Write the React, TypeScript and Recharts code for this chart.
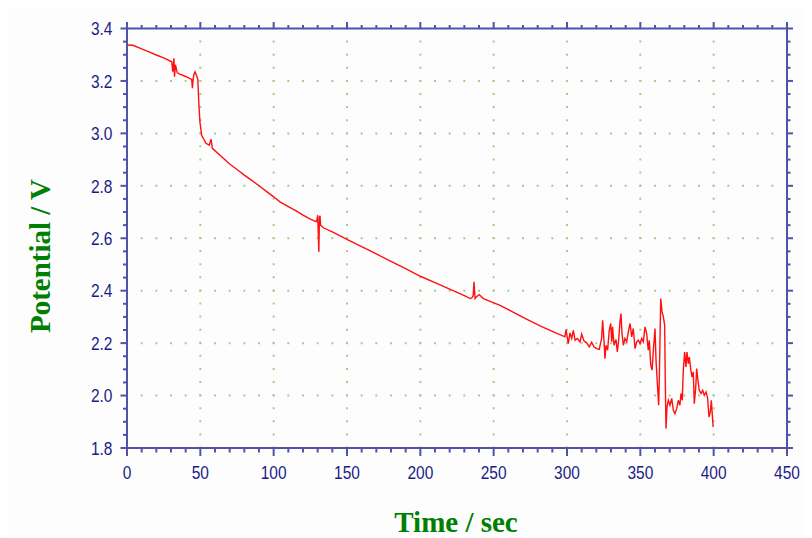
import React from "react";
import { LineChart, Line, XAxis, YAxis, CartesianGrid } from "recharts";

const timeSec: number[] = [
  0, 4, 10, 15, 20, 25, 30.5, 31.2, 32, 32.4, 33, 34.3, 36, 40, 44.1, 44.6, 45, 45.6, 46.4, 47.5, 48.3,
  49.1, 49.8, 50.9, 53.9, 56.1, 57.3, 58.2, 65.7, 70, 75, 80, 85, 90, 95, 100, 104.3, 110, 115,
  120, 125, 128.9, 129.5, 130, 130.4, 130.8, 131.2, 131.6, 132, 133, 133.9, 140, 150, 160, 170,
  180, 190, 200, 210, 220, 230, 234, 235, 236, 236.6, 237, 237.3, 238.5, 240.2, 241.5, 243, 248,
  254, 260, 270, 281.6, 290, 298.6, 299.3, 300.9, 302, 303.2, 304.3, 305.5, 307, 308.9, 310,
  311.6, 313.4, 315.2, 316.8, 318.4, 320.2, 322, 323.6, 324.3, 325.2, 325.9, 326.6, 327.7, 328.8,
  329.8, 330.5, 331.1, 332, 333.4, 334.3, 335.2, 336.1, 336.8, 337.5, 338.4, 339.5, 340.7, 342,
  343, 344.1, 345.2, 346.4, 347.5, 348.6, 349.8, 350.9, 352, 353.2, 354.3, 355.4, 356.1, 357.1,
  358, 358.9, 360, 360.7, 361.6, 362.5, 363, 363.9, 364.8, 365.7, 366.6, 367, 367.5, 368.2,
  369.1, 370.2, 371.4, 372.5, 373.6, 374.8, 375.9, 377, 377.7, 378.6, 379.3, 380.2, 381.1, 381.8,
  382.7, 383.4, 384.3, 385.2, 386.1, 386.8, 387.8, 388.4, 389.3, 390.2, 391.4, 392.5, 393.6,
  394.8, 395.9, 396.8, 397.7, 398.4, 399.1, 399.6,
];

const potentialV: number[] = [
  3.337, 3.336, 3.322, 3.311, 3.299, 3.288, 3.273, 3.235, 3.286, 3.216, 3.262, 3.231, 3.226, 3.217, 3.206, 3.172, 3.2, 3.225, 3.235, 3.219, 3.205,
  3.1, 3.04, 2.993, 2.962, 2.955, 2.978, 2.943, 2.905, 2.883, 2.862, 2.841, 2.821, 2.8, 2.779, 2.758, 2.739, 2.721, 2.705,
  2.688, 2.673, 2.663, 2.668, 2.688, 2.62, 2.548, 2.68, 2.686, 2.65, 2.645, 2.64, 2.624, 2.596, 2.568, 2.54,
  2.512, 2.484, 2.455, 2.431, 2.406, 2.381, 2.37, 2.372, 2.38, 2.434, 2.4, 2.37, 2.378, 2.385, 2.378, 2.37, 2.358,
  2.345, 2.328, 2.298, 2.266, 2.245, 2.224, 2.252, 2.198, 2.239, 2.218, 2.249, 2.211, 2.218, 2.205, 2.234,
  2.208, 2.201, 2.186, 2.203, 2.186, 2.179, 2.176, 2.218, 2.287, 2.211, 2.141, 2.192, 2.173, 2.249,
  2.275, 2.205, 2.262, 2.192, 2.214, 2.166, 2.211, 2.281, 2.313, 2.237, 2.192, 2.218, 2.205, 2.249,
  2.275, 2.224, 2.256, 2.179, 2.205, 2.211, 2.198, 2.218, 2.205, 2.262, 2.237, 2.173, 2.211, 2.116,
  2.097, 2.173, 2.256, 2.135, 2.046, 1.963, 2.084, 2.37, 2.319, 2.3, 2.268, 2.058, 1.874, 1.957,
  1.982, 1.963, 1.989, 1.944, 1.931, 1.95, 1.982, 1.963, 2.008, 1.982, 2.097, 2.166, 2.109, 2.166,
  2.122, 2.147, 2.103, 2.071, 2.09, 1.969, 2.033, 2.103, 2.058, 2.02, 2.008, 2.02, 2.001,
  2.014, 1.989, 1.918, 1.937, 1.982, 1.925, 1.88,
];

const xTicks: number[] = [0, 10, 20, 30, 40, 50, 60, 70, 80, 90, 100, 110, 120, 130, 140, 150, 160, 170, 180, 190, 200, 210, 220, 230, 240, 250, 260, 270, 280, 290, 300, 310, 320, 330, 340, 350, 360, 370, 380, 390, 400, 410, 420, 430, 440, 450];
const xMajor: number[] = [0, 50, 100, 150, 200, 250, 300, 350, 400, 450];
const yTicks: number[] = [1.8, 1.85, 1.9, 1.95, 2.0, 2.05, 2.1, 2.15, 2.2, 2.25, 2.3, 2.35, 2.4, 2.45, 2.5, 2.55, 2.6, 2.65, 2.7, 2.75, 2.8, 2.85, 2.9, 2.95, 3.0, 3.05, 3.1, 3.15, 3.2, 3.25, 3.3, 3.35, 3.4];
const yMajor: number[] = [1.8, 2.0, 2.2, 2.4, 2.6, 2.8, 3.0, 3.2, 3.4];
const yGrid: number[] = [2.0, 2.2, 2.4, 2.6, 2.8, 3.0, 3.2];
const xGrid: number[] = [50, 100, 150, 200, 250, 300, 350, 400];

const data = timeSec.map((t, i) => ({ t, v: potentialV[i] }));

const AXIS = "#5252ac";
const LABEL = "#1c1c84";
const GRID = "#a9cc8c";
const FONT = "'Liberation Sans', Arial, sans-serif";

const isMajorX = (v: number) => xMajor.some((m) => Math.abs(m - v) < 1e-6);
const isMajorY = (v: number) => yMajor.some((m) => Math.abs(m - v) < 1e-6);

const BottomTick = (props: any) => {
  const { x, y, payload } = props;
  const major = isMajorX(payload.value);
  return (
    <g>
      <line x1={x} x2={x} y1={y} y2={y + (major ? 8 : 4.5)} stroke={AXIS} strokeWidth={2} />
      {major && (
        <text
          transform={`translate(${x},${y + 30.5}) scale(1,1.2)`}
          textAnchor="middle"
          fill={LABEL}
          fontSize={15.5}
          fontFamily={FONT}
        >
          {payload.value}
        </text>
      )}
    </g>
  );
};

const TopTick = (props: any) => {
  const { x, y, payload } = props;
  const major = isMajorX(payload.value);
  return <line x1={x} x2={x} y1={y} y2={y - (major ? 6.5 : 3.5)} stroke={AXIS} strokeWidth={2} />;
};

const LeftTick = (props: any) => {
  const { x, y, payload } = props;
  const major = isMajorY(payload.value);
  return (
    <g>
      <line x1={major ? x - 6.5 : x - 4} x2={x + 1} y1={y} y2={y} stroke={AXIS} strokeWidth={2} />
      {major && (
        <text
          transform={`translate(${x - 14.5},${y + 6.8}) scale(1,1.2)`}
          textAnchor="end"
          fill={LABEL}
          fontSize={15.5}
          fontFamily={FONT}
        >
          {payload.value.toFixed(1)}
        </text>
      )}
    </g>
  );
};

const RightTick = (props: any) => {
  const { x, y, payload } = props;
  const major = isMajorY(payload.value);
  return <line x1={x} x2={x + (major ? 6 : 3.5)} y1={y} y2={y} stroke={AXIS} strokeWidth={2} />;
};

export default function App() {
  return (
    <div style={{ position: "relative", width: 804, height: 530, background: "#fdfdfd" }}>
      <LineChart
        width={804}
        height={530}
        data={data}
        margin={{ top: 0.5, right: 5, bottom: 40, left: 59 }}
      >
        <CartesianGrid
          vertical={false}
          horizontalValues={yGrid}
          stroke={GRID}
          strokeWidth={2}
          strokeDasharray="2 12.667"
          strokeDashoffset={1}
        />
        <CartesianGrid
          horizontal={false}
          verticalValues={xGrid}
          stroke={GRID}
          strokeWidth={2}
          strokeDasharray="2 11.094"
          strokeDashoffset={1}
        />
        <XAxis
          dataKey="t"
          type="number"
          domain={[0, 450]}
          ticks={xTicks}
          interval={0}
          tickSize={0}
          tickMargin={0}
          tickLine={false}
          tick={<BottomTick />}
          height={50}
          axisLine={{ stroke: AXIS, strokeWidth: 2 }}
          allowDataOverflow
        />
        <XAxis
          xAxisId="top"
          dataKey="t"
          orientation="top"
          type="number"
          domain={[0, 450]}
          ticks={xTicks}
          interval={0}
          tickSize={0}
          tickMargin={0}
          tickLine={false}
          tick={<TopTick />}
          height={20}
          axisLine={{ stroke: AXIS, strokeWidth: 2 }}
          allowDataOverflow
        />
        <YAxis
          type="number"
          domain={[1.8, 3.4]}
          ticks={yTicks}
          interval={0}
          tickSize={0}
          tickMargin={0}
          tickLine={false}
          tick={<LeftTick />}
          width={60}
          axisLine={{ stroke: AXIS, strokeWidth: 2 }}
          allowDataOverflow
        />
        <YAxis
          yAxisId="right"
          dataKey="v"
          orientation="right"
          type="number"
          domain={[1.8, 3.4]}
          ticks={yTicks}
          interval={0}
          tickSize={0}
          tickMargin={0}
          tickLine={false}
          tick={<RightTick />}
          width={20}
          axisLine={{ stroke: AXIS, strokeWidth: 2 }}
          allowDataOverflow
        />
        <Line
          dataKey="v"
          type="linear"
          stroke="#ff1010"
          strokeWidth={1.4}
          dot={false}
          isAnimationActive={false}
        />
      </LineChart>
      <div
        style={{
          position: "absolute",
          left: 448,
          top: 514,
          transform: "translate(-50%, -50%)",
          fontFamily: "'Liberation Serif', 'Times New Roman', serif",
          fontWeight: "bold",
          fontSize: 29,
          color: "#008000",
          whiteSpace: "nowrap",
          lineHeight: 1,
        }}
      >
        Time / sec
      </div>
      <div
        style={{
          position: "absolute",
          left: 32,
          top: 248,
          transform: "translate(-50%, -50%) rotate(-90deg)",
          fontFamily: "'Liberation Serif', 'Times New Roman', serif",
          fontWeight: "bold",
          fontSize: 29,
          color: "#008000",
          whiteSpace: "nowrap",
          lineHeight: 1,
        }}
      >
        Potential / V
      </div>
    </div>
  );
}
